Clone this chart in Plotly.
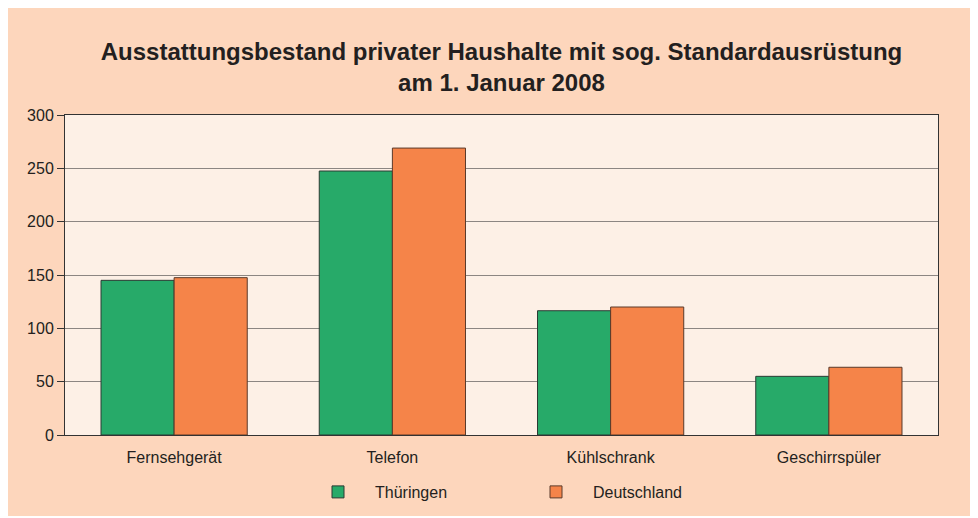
import plotly.graph_objects as go

categories = ["Fernsehgerät", "Telefon", "Kühlschrank", "Geschirrspüler"]
thueringen = [145, 247.5, 116.5, 55]
deutschland = [147.5, 269, 120, 63.5]
series_names = ["Thüringen", "Deutschland"]
y_ticks = [0, 50, 100, 150, 200, 250, 300]

GREEN = "#27AA69"
ORANGE = "#F58449"
PEACH = "#FDD6BC"
PLOT_BG = "#FDF0E6"
TEXT = "#231F20"

fig = go.Figure()
fig.add_trace(go.Bar(x=categories, y=thueringen, name=series_names[0],
                     marker=dict(color=GREEN, line=dict(color="#2B3A33", width=1))))
fig.add_trace(go.Bar(x=categories, y=deutschland, name=series_names[1],
                     marker=dict(color=ORANGE, line=dict(color="#5A3A2A", width=1))))

# figure is placed at page offset (8, 8) by the default body margin
OFF = 8
W, H = 970, 508
L, R, T, B = 57, 40, 107, 81
pw = W - L - R

def px_x(px):
    return (px - OFF - L) / pw

def cont_y(py):
    return 1 - (py - OFF) / H

fig.update_layout(
    width=W, height=H,
    margin=dict(l=L, r=R, t=T, b=B, autoexpand=False),
    paper_bgcolor=PEACH,
    plot_bgcolor=PLOT_BG,
    font=dict(family="Liberation Sans, Arial, sans-serif", size=16, color=TEXT),
    title=dict(
        text="<b>Ausstattungsbestand privater Haushalte mit sog. Standardausrüstung<br>am 1. Januar 2008</b>",
        x=0.5, xref="paper", xanchor="center",
        y=cont_y(60), yanchor="top", yref="container",
        font=dict(size=24, color=TEXT),
    ),
    barmode="group",
    bargap=0.33,
    bargroupgap=0,
    showlegend=True,
    legend=dict(
        orientation="h",
        x=px_x(301), xanchor="left",
        y=cont_y(475), yanchor="top", yref="container",
        bgcolor="rgba(0,0,0,0)",
        itemwidth=64,
        entrywidth=139, entrywidthmode="pixels",
        font=dict(size=16, color=TEXT),
    ),
)
fig.update_xaxes(
    showline=True, linecolor="#333333", linewidth=1, mirror=True,
    ticks="", tickfont=dict(size=16, color=TEXT),
    ticklabelstandoff=8,
    showgrid=False,
)
fig.update_yaxes(
    range=[0, 300], tickvals=y_ticks,
    showline=True, linecolor="#333333", linewidth=1, mirror=True,
    ticks="outside", ticklen=7, tickcolor="#333333",
    showgrid=True, gridcolor="#8C8682", gridwidth=1,
    tickfont=dict(size=16, color=TEXT),
    zeroline=False,
)

fig.write_html("out.html")
